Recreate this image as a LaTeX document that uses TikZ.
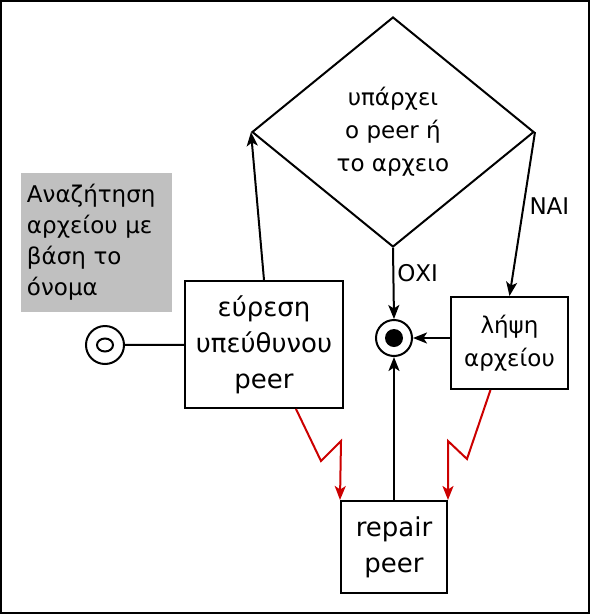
\documentclass[tikz,border=0pt]{standalone}
\usepackage{fontspec}
\setmainfont{DejaVu Sans}
\usetikzlibrary{positioning,shapes.geometric,arrows.meta,calc}

\definecolor{failred}{HTML}{CC0000}
\definecolor{notegray}{HTML}{C0C0C0}

\begin{document}
\begin{tikzpicture}[x=1pt, y=-1pt,
  every node/.style={font=\fontsize{23}{33}\selectfont},
  big/.style={font=\fontsize{26}{36}\selectfont},
  proc/.style={rectangle, draw, line width=2pt, align=center, inner sep=2pt},
  decide/.style={diamond, draw, line width=2pt, aspect=1.226,
                 minimum width=282pt, minimum height=230pt, inner sep=0pt, align=center},
  note/.style={rectangle, fill=notegray, align=left, text width=139pt,
               minimum height=139pt, inner sep=6pt, font=\fontsize{23}{31}\selectfont},
  term/.style={circle, draw, line width=2pt, inner sep=0pt},
  arr/.style={-{Stealth[length=14pt, width=11pt, inset=3.5pt]}, line width=2pt},
  failarr/.style={arr, draw=failred},
  lbl/.style={inner sep=2pt}
]
\useasboundingbox (0,0) rectangle (590,614);
\draw[line width=2pt] (1,1) rectangle (589,613);

% The task and its start point.
\node[note] (task) at (96.5,242.5) {Αναζήτηση\\αρχείου με\\βάση το\\όνομα};
\node[term, minimum size=38pt] (start) at (105,345) {};
\draw[line width=2pt] (start.center) ellipse (8pt and 6.5pt);

% Steps, the check and the end point.
\node[proc, big, minimum width=158pt, minimum height=127pt] (find) at (264,344.5) {εύρεση\\υπεύθυνου\\peer};
\node[decide] (exists) at (393,132) {υπάρχει\\ο peer ή\\το αρχειο};
\node[proc, minimum width=117pt, minimum height=92pt] (fetch) at (509.5,343) {λήψη\\αρχείου};
\node[proc, big, minimum width=106pt, minimum height=92pt] (repair) at (394,547) {repair\\peer};
\node[term, minimum size=36pt] (stop) at (394,338) {};
\fill (stop.center) circle (9pt);

% Normal flow.
\draw[line width=2pt] (start) -- (find);
\draw[arr] (find.north) -- (exists.west);
\draw[arr] (exists.east) -- node[lbl, pos=0.45, right=3pt] {ΝΑΙ} (fetch.north);
\draw[arr] (exists.south) -- node[lbl, pos=0.36, right=1pt] {ΟΧΙ} (stop.north);
\draw[arr] (fetch.west |- stop.east) -- (stop.east);
\draw[arr] (repair.north) -- (stop.south);

% Failures go to repair.
\draw[failarr] ($(find.south west)!0.7!(find.south east)$) -- (321,461) -- (341,441)
  -- (repair.north west);
\draw[failarr] ($(fetch.south west)!0.34!(fetch.south east)$) -- (467,459) -- (448,441)
  -- (repair.north east);

\end{tikzpicture}
\end{document}
